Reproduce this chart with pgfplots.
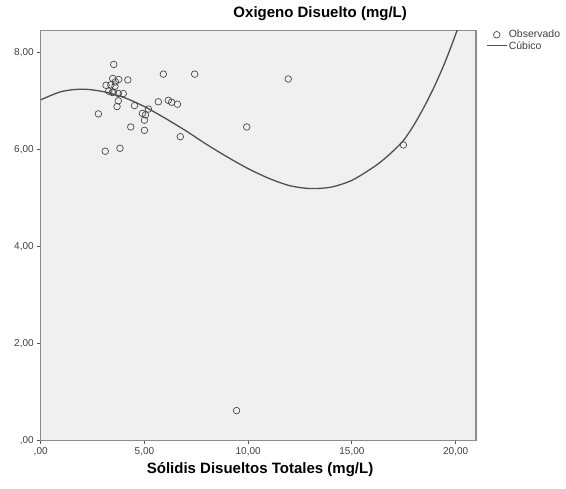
\documentclass[border=0pt]{standalone}
\usepackage{pgfplots}
\pgfplotsset{compat=1.18}
\usepackage{fontspec}
\setmainfont{Liberation Sans}
\definecolor{plotbg}{HTML}{F0F0F0}
\definecolor{frame}{HTML}{8C8C8C}
\definecolor{mk}{HTML}{4A4A4A}
\definecolor{fit}{HTML}{505050}
\begin{document}
\begin{tikzpicture}
\path[use as bounding box] (0pt,0pt) rectangle (566pt,489pt);
\begin{axis}[
  at={(40.7pt,48.3pt)}, anchor=south west,
  scale only axis, width=435.3pt, height=410.2pt,
  xmin=0, xmax=20.98, ymin=0, ymax=8.46,
  axis background/.style={fill=plotbg},
  axis line style={draw=frame, line width=1.1pt},
  xtick={0,5,10,15,20},
  xticklabels={{,00},{5,00},{10,00},{15,00},{20,00}},
  ytick={0,2,4,6,8},
  yticklabels={{,00},{2,00},{4,00},{6,00},{8,00}},
  tick align=outside, tick pos=left, major tick length=3.5pt,
  tick style={draw=black!65, line width=0.9pt},
  ticklabel style={font=\fontsize{10}{12}\selectfont, text=black!75},
  /pgf/number format/assume math mode=true,
  title={Oxigeno Disuelto (mg/L)},
  title style={at={(axis description cs:0.642,1)}, anchor=base, yshift=6.5pt,
    font=\bfseries\fontsize{15}{18}\selectfont},
  xlabel={Sólidis Disueltos Totales (mg/L)},
  xlabel style={at={(axis description cs:0.504,0)}, anchor=base, yshift=-33.3pt,
    font=\bfseries\fontsize{15}{18}\selectfont},
  legend style={at={(axis description cs:1,1)}, anchor=north west,
    xshift=10pt, yshift=2pt, draw=none, fill=none, inner sep=0pt,
    font=\fontsize{10.5}{11}\selectfont, row sep=-1pt,
    nodes={inner sep=1.5pt, text=black!75}},
  legend cell align=left,
  clip=true,
]
\addplot[only marks, mark=o, mark size=3.3pt, draw=mk, mark options={line width=0.7pt},
  legend image code/.code={\draw[mark size=3.3pt, line width=0.7pt] plot coordinates {(10pt,0pt)};}]
coordinates {
(3.52,7.76) (5.91,7.56) (7.42,7.56) (3.47,7.47) (3.76,7.45) (4.20,7.44)
(3.60,7.40) (3.15,7.33) (3.38,7.34) (3.58,7.31) (3.28,7.21) (3.50,7.19)
(3.45,7.18) (3.74,7.16) (3.98,7.16) (3.74,7.01) (3.68,6.89) (4.52,6.91)
(5.67,6.99) (6.15,7.02) (6.31,6.98) (6.59,6.94) (5.19,6.84) (4.90,6.75)
(5.05,6.72) (5.00,6.61) (5.00,6.40) (2.78,6.74) (4.34,6.47) (6.73,6.27)
(3.11,5.97) (3.82,6.03) (9.93,6.47) (11.93,7.46) (17.48,6.10) (9.44,0.62)
};
\addlegendentry{Observado}
\addplot[smooth, draw=fit, line width=1.3pt,
  legend image code/.code={\draw[line width=1.1pt] (0pt,0pt) -- (20pt,0pt);}]
coordinates {
(0,7.03) (1,7.20) (2,7.25) (3,7.20) (4,7.08) (5,6.89) (6,6.65) (7,6.39)
(8,6.11) (9,5.85) (10,5.61) (11,5.41) (12,5.26) (13,5.20) (14,5.23)
(15,5.37) (16,5.63) (16.5,5.79) (17,5.98) (17.5,6.20) (18,6.52)
(18.5,6.90) (19,7.33) (19.5,7.82) (20,8.38) (20.2,8.62)
};
\addlegendentry{Cúbico}
\end{axis}
\end{tikzpicture}
\end{document}
